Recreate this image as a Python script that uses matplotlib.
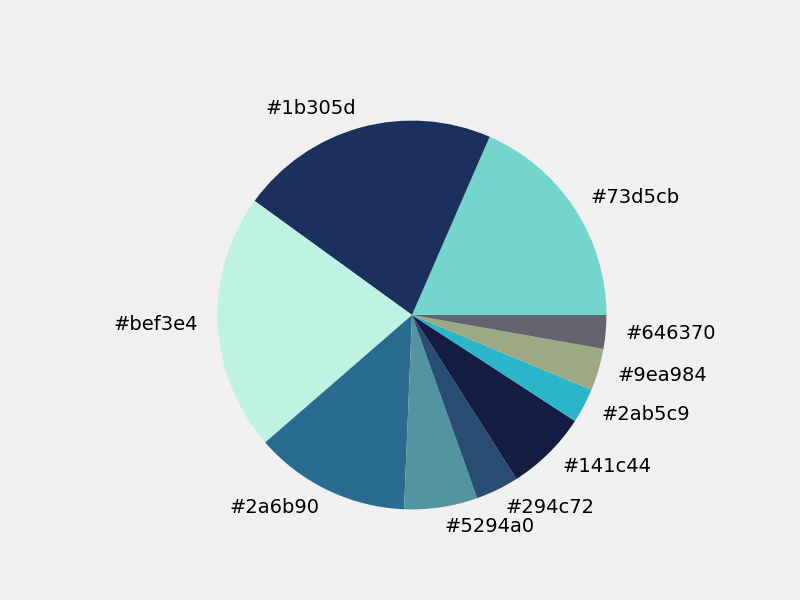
import matplotlib

matplotlib.use("Agg")
import matplotlib.pyplot as plt

# wedge sizes (percent of the circle)
colors = ["#73d5cb", "#1b305d", "#bef3e4", "#2a6b90", "#5294a0",
          "#294c72", "#141c44", "#2ab5c9", "#9ea984", "#646370"]
sizes = [18.5, 21.6, 21.4, 13.0, 6.1, 3.6, 6.8, 2.9, 3.5, 2.8]

plt.style.use("fivethirtyeight")
fig, ax = plt.subplots(figsize=(8, 6), dpi=100)
ax.pie(sizes, labels=colors, colors=colors)
fig.savefig("out.png", dpi=100)
